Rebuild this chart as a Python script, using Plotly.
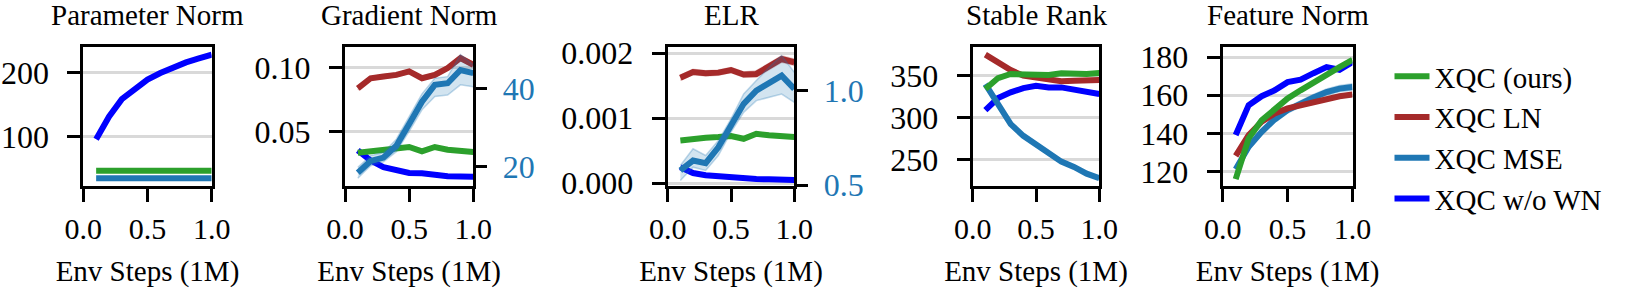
import plotly.graph_objects as go

W, H = 1631, 288

steps = [0.1, 0.2, 0.3, 0.4, 0.5, 0.6, 0.7, 0.8, 0.9, 1.0]
series_names = ["XQC (ours)", "XQC LN", "XQC MSE", "XQC w/o WN"]
titles = ["Parameter Norm", "Gradient Norm", "ELR", "Stable Rank", "Feature Norm"]
x_tickvals = [0.0, 0.5, 1.0]
x_ticktext = ["0.0", "0.5", "1.0"]

# Parameter Norm
param_ours = [47.1, 47.1, 47.1, 47.1, 47.1, 47.1, 47.1, 47.1, 47.1, 47.1]
param_mse = [35.3, 35.3, 35.3, 35.3, 35.3, 35.3, 35.3, 35.3, 35.3, 35.3]
param_wn = [96.0, 131.0, 158.3, 174.9, 188.6, 198.9, 208.2, 215.4, 221.6, 227.4]

# Gradient Norm (MSE on right axis)
grad_ours = [0.0338, 0.0349, 0.0357, 0.0370, 0.0383, 0.0349, 0.0383, 0.0362, 0.0357, 0.0344]
grad_ln = [0.0838, 0.0916, 0.0929, 0.0942, 0.0969, 0.0916, 0.0942, 0.0995, 0.1073, 0.1020]
grad_ln_lo = [0.0825, 0.0902, 0.0914, 0.0928, 0.0955, 0.0900, 0.0925, 0.0978, 0.1055, 0.1002]
grad_ln_hi = [0.0851, 0.0930, 0.0944, 0.0956, 0.0983, 0.0932, 0.0959, 0.1012, 0.1091, 0.1038]
grad_wn = [0.0357, 0.0278, 0.0227, 0.0200, 0.0182, 0.0180, 0.0167, 0.0156, 0.0154, 0.0152]
grad_mse = [18.4, 21.4, 22.3, 25.3, 30.9, 36.6, 40.9, 41.3, 44.7, 43.9]
grad_mse_lo = [17.0, 20.2, 21.2, 23.8, 29.0, 34.5, 37.9, 38.3, 40.9, 40.4]
grad_mse_hi = [19.8, 22.8, 23.6, 27.0, 32.8, 38.6, 42.6, 43.0, 48.6, 46.0]

# ELR (MSE on right axis)
elr_ours = [0.000657, 0.000682, 0.000698, 0.000708, 0.000724, 0.000682, 0.000760, 0.000735, 0.000730, 0.000708]
elr_ln = [0.00162, 0.00171, 0.00169, 0.00170, 0.00174, 0.00167, 0.00168, 0.00179, 0.00191, 0.00186]
elr_ln_lo = [0.00158, 0.00167, 0.00165, 0.00166, 0.00170, 0.00163, 0.00163, 0.00174, 0.00186, 0.00181]
elr_ln_hi = [0.00166, 0.00175, 0.00173, 0.00174, 0.00178, 0.00171, 0.00173, 0.00184, 0.00196, 0.00191]
elr_wn = [0.000243, 0.000155, 0.000120, 0.000100, 0.000084, 0.000080, 0.000062, 0.000060, 0.000050, 0.000047]
elr_mse = [0.578, 0.630, 0.616, 0.700, 0.815, 0.930, 1.000, 1.039, 1.079, 1.009]
elr_mse_lo = [0.525, 0.595, 0.578, 0.657, 0.780, 0.885, 0.947, 0.965, 0.982, 0.938]
elr_mse_hi = [0.604, 0.692, 0.657, 0.736, 0.850, 0.982, 1.053, 1.123, 1.185, 1.097]

# Stable Rank
rank_ours = [334.1, 347.2, 352.0, 351.2, 350.4, 350.8, 352.8, 352.0, 352.0, 353.2]
rank_ln = [375.0, 365.9, 356.7, 350.0, 347.2, 344.8, 343.3, 344.0, 344.8, 344.8]
rank_wn = [309.1, 323.4, 330.2, 335.3, 338.1, 336.1, 336.1, 333.0, 330.2, 328.2]
rank_mse = [340.1, 316.3, 292.5, 278.6, 268.7, 256.8, 248.0, 241.7, 233.7, 228.2]

# Feature Norm
feat_ours = [116.0, 137.4, 146.9, 153.1, 158.3, 162.6, 166.9, 171.3, 174.8, 178.6]
feat_ln = [128.2, 139.1, 146.1, 150.4, 153.1, 154.8, 156.5, 158.3, 159.5, 160.4]
feat_mse = [121.2, 133.0, 140.8, 147.3, 152.2, 155.7, 158.8, 161.7, 163.5, 164.3]
feat_mse_lo = [119.5, 131.2, 139.0, 145.6, 150.6, 154.1, 157.2, 160.1, 161.9, 162.6]
feat_mse_hi = [122.9, 134.8, 142.6, 149.0, 153.8, 157.3, 160.4, 163.3, 165.1, 166.0]
feat_wn = [139.1, 154.8, 159.5, 162.6, 166.9, 168.2, 171.6, 174.8, 173.4, 177.4]

# y ticks
y_ticks = [
    ([100, 200], ["100", "200"]),
    ([0.05, 0.10], ["0.05", "0.10"]),
    ([0.0, 0.001, 0.002], ["0.000", "0.001", "0.002"]),
    ([250, 300, 350], ["250", "300", "350"]),
    ([120, 140, 160, 180], ["120", "140", "160", "180"]),
]
y_ranges = [[23.8, 238.9], [0.0083, 0.1156], [-0.00004, 0.00209], [219.4, 383.7], [112.5, 185.2]]
y2_ticks = {2: ([20, 40], ["20", "40"]), 3: ([0.5, 1.0], ["0.5", "1.0"])}
y2_ranges = {2: [15.1, 50.5], 3: [0.497, 1.229]}

# ---- styling ----
COL = {"XQC (ours)": "#2ca02c", "XQC LN": "#a52a2a", "XQC MSE": "#1f77b4", "XQC w/o WN": "#0000ff"}
BAND = {"XQC LN": "rgba(165,42,42,0.18)", "XQC MSE": "rgba(31,119,180,0.2)"}
BAND_EDGE = {"XQC LN": "rgba(165,42,42,0.22)", "XQC MSE": "rgba(31,119,180,0.28)"}
FONT = "Liberation Serif"
FS = 29
FS_X = 30
FS_Y = 32
LW = 6
RANK = {"XQC (ours)": 1, "XQC LN": 2, "XQC MSE": 3, "XQC w/o WN": 4}

# panel boxes in page pixels
panel_px = [(83.3, 211.7), (345.0, 473.3), (667.7, 794.3), (972.7, 1099.3), (1222.7, 1352.5)]
top_px, bot_px = 47.3, 185.7


def fx(px):
    return px / W


def fy(py):
    return 1 - py / H


ydom = [fy(bot_px), fy(top_px)]

fig = go.Figure()


def add_band(xa, ya, lo, hi, name):
    fig.add_trace(go.Scatter(x=steps, y=lo, xaxis=xa, yaxis=ya, mode="lines",
                             line=dict(color=BAND_EDGE[name], width=1.5),
                             showlegend=False, hoverinfo="skip", legendgroup=name))
    fig.add_trace(go.Scatter(x=steps, y=hi, xaxis=xa, yaxis=ya, mode="lines",
                             line=dict(color=BAND_EDGE[name], width=1.5), fill="tonexty",
                             fillcolor=BAND[name], showlegend=False, hoverinfo="skip",
                             legendgroup=name))


def add_line(xa, ya, y, name, legend=False):
    fig.add_trace(go.Scatter(x=steps, y=y, xaxis=xa, yaxis=ya, mode="lines", name=name,
                             line=dict(color=COL[name], width=LW), showlegend=legend,
                             legendgroup=name, legendrank=RANK[name]))


# Panel 1
add_line("x", "y", param_wn, "XQC w/o WN")
add_line("x", "y", param_mse, "XQC MSE")
add_line("x", "y", param_ours, "XQC (ours)")
# Panel 2
add_line("x2", "y2", grad_wn, "XQC w/o WN")
add_band("x2", "y2", grad_ln_lo, grad_ln_hi, "XQC LN")
add_line("x2", "y2", grad_ln, "XQC LN")
add_line("x2", "y2", grad_ours, "XQC (ours)")
add_band("x2", "y6", grad_mse_lo, grad_mse_hi, "XQC MSE")
add_line("x2", "y6", grad_mse, "XQC MSE")
# Panel 3
add_line("x3", "y3", elr_wn, "XQC w/o WN")
add_band("x3", "y3", elr_ln_lo, elr_ln_hi, "XQC LN")
add_line("x3", "y3", elr_ln, "XQC LN")
add_line("x3", "y3", elr_ours, "XQC (ours)")
add_band("x3", "y7", elr_mse_lo, elr_mse_hi, "XQC MSE")
add_line("x3", "y7", elr_mse, "XQC MSE")
# Panel 4
add_line("x4", "y4", rank_wn, "XQC w/o WN")
add_line("x4", "y4", rank_mse, "XQC MSE")
add_line("x4", "y4", rank_ln, "XQC LN")
add_line("x4", "y4", rank_ours, "XQC (ours)")
# Panel 5 (carries the legend)
add_line("x5", "y5", feat_wn, "XQC w/o WN", True)
add_band("x5", "y5", feat_mse_lo, feat_mse_hi, "XQC MSE")
add_line("x5", "y5", feat_mse, "XQC MSE", True)
add_line("x5", "y5", feat_ln, "XQC LN", True)
add_line("x5", "y5", feat_ours, "XQC (ours)", True)

layout = dict(
    width=W, height=H, margin=dict(l=0, r=0, t=0, b=0, autoexpand=False),
    paper_bgcolor="white", plot_bgcolor="white",
    font=dict(family=FONT, size=FS, color="black"),
    showlegend=True,
    legend=dict(x=fx(1389.5), y=fy(51), xanchor="left", yanchor="top",
                bgcolor="rgba(0,0,0,0)", font=dict(family=FONT, size=FS),
                tracegroupgap=0, itemwidth=35, traceorder="grouped"),
    annotations=[],
)

axis_common = dict(showline=True, linecolor="black", linewidth=3, mirror=True,
                   ticks="outside", ticklen=13, tickwidth=3, tickcolor="black",
                   zeroline=False, automargin=False)

for i in range(5):
    k = "" if i == 0 else str(i + 1)
    x0, x1 = panel_px[i]
    layout["xaxis" + k] = dict(axis_common, domain=[fx(x0), fx(x1)], anchor="y" + k,
                               range=[0, 1.0], tickvals=x_tickvals, ticktext=x_ticktext,
                               showgrid=False, ticklabelstandoff=1,
                               tickfont=dict(family=FONT, size=FS_X, color="black"),
                               title=dict(text="Env Steps (1M)", standoff=26,
                                          font=dict(family=FONT, size=FS)))
    tv, tt = y_ticks[i]
    layout["yaxis" + k] = dict(axis_common, domain=ydom, anchor="x" + k, range=y_ranges[i],
                               tickvals=tv, ticktext=tt, showgrid=True,
                               tickfont=dict(family=FONT, size=FS_Y, color="black"),
                               gridcolor="#d9d9d9", gridwidth=2.5, ticklabelstandoff=12)
    layout["annotations"].append(dict(text=titles[i], x=fx((x0 + x1) / 2), y=fy(15),
                                      xref="paper", yref="paper", xanchor="center",
                                      yanchor="middle", showarrow=False,
                                      font=dict(family=FONT, size=FS, color="black")))

for pi, yk in ((2, "6"), (3, "7")):
    tv, tt = y2_ticks[pi]
    layout["yaxis" + yk] = dict(overlaying="y" + str(pi), side="right", anchor="x" + str(pi),
                                range=y2_ranges[pi], tickvals=tv, ticktext=tt,
                                showline=False, showgrid=False, zeroline=False,
                                automargin=False,
                                ticks="outside", ticklen=13, tickwidth=3, tickcolor="black",
                                ticklabelstandoff=9,
                                tickfont=dict(family=FONT, size=FS_Y, color="#1f77b4"))

fig.update_layout(**layout)
# let the figure fill the page exactly (no default body margin)
fig.write_html("out.html", config={"displayModeBar": False},
               post_script="document.body.style.margin='0';")
